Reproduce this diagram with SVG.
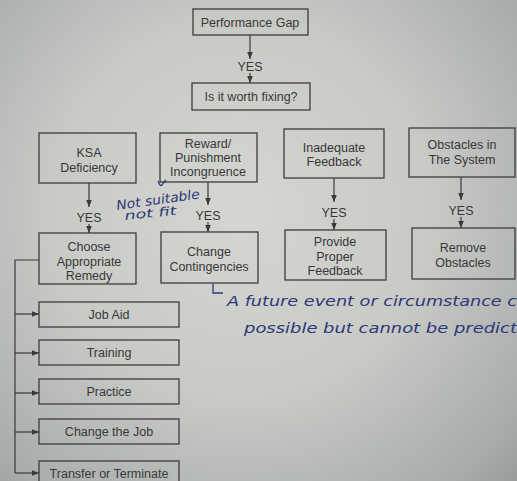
<svg xmlns="http://www.w3.org/2000/svg" width="517" height="481" viewBox="0 0 517 481">
<defs>
<radialGradient id="bg" cx="240" cy="210" r="420" gradientUnits="userSpaceOnUse">
<stop offset="0" stop-color="#d5d6d2"/>
<stop offset="0.45" stop-color="#c8cac6"/>
<stop offset="0.8" stop-color="#a9adab"/>
<stop offset="1" stop-color="#8e9391"/>
</radialGradient>
<marker id="ah" viewBox="0 0 10 10" refX="10" refY="5" markerWidth="7" markerHeight="7" markerUnits="userSpaceOnUse" orient="auto">
<path d="M0,1 L10,5 L0,9 z" fill="#3a3a3a"/>
</marker>
<style>
.box{fill:none;stroke:#3c3c3c;stroke-width:1.3}
.t{font-family:"Liberation Sans",Arial,sans-serif;font-size:12.5px;fill:#383838;text-anchor:middle}
.c{fill:none;stroke:#3a3a3a;stroke-width:1.2}
.hw{font-family:"DejaVu Sans",sans-serif;font-style:italic;fill:#2e3878}
.hl{fill:none;stroke:#2e3878;stroke-width:1.3}
</style>
</defs>
<rect width="517" height="481" fill="url(#bg)"/>

<g id="connectors">
<line class="c" x1="250" y1="35" x2="250" y2="59" marker-end="url(#ah)"/>
<line class="c" x1="250" y1="73" x2="250" y2="83" marker-end="url(#ah)"/>
<line class="c" x1="89" y1="183" x2="89" y2="207" marker-end="url(#ah)"/>
<line class="c" x1="89" y1="224" x2="89" y2="233" marker-end="url(#ah)"/>
<line class="c" x1="208" y1="182" x2="208" y2="205" marker-end="url(#ah)"/>
<line class="c" x1="208" y1="222" x2="208" y2="232" marker-end="url(#ah)"/>
<line class="c" x1="334" y1="178" x2="334" y2="202" marker-end="url(#ah)"/>
<line class="c" x1="334" y1="219" x2="334" y2="230" marker-end="url(#ah)"/>
<line class="c" x1="461" y1="177" x2="461" y2="200" marker-end="url(#ah)"/>
<line class="c" x1="461" y1="217" x2="461" y2="228" marker-end="url(#ah)"/>
<polyline class="c" points="39,260 15,260 15,473"/>
<line class="c" x1="15" y1="314" x2="39" y2="314" marker-end="url(#ah)"/>
<line class="c" x1="15" y1="353" x2="39" y2="353" marker-end="url(#ah)"/>
<line class="c" x1="15" y1="393" x2="39" y2="393" marker-end="url(#ah)"/>
<line class="c" x1="15" y1="432" x2="39" y2="432" marker-end="url(#ah)"/>
<line class="c" x1="15" y1="473" x2="39" y2="473" marker-end="url(#ah)"/>
<text class="t" x="250" y="71">YES</text>
<text class="t" x="89" y="222">YES</text>
<text class="t" x="208" y="220">YES</text>
<text class="t" x="334" y="217">YES</text>
<text class="t" x="461" y="215">YES</text>
</g>

<g id="performance-gap">
<rect class="box" x="193" y="9" width="115" height="26"/>
<text class="t" x="250" y="26.5">Performance Gap</text>
</g>
<g id="worth-fixing">
<rect class="box" x="192" y="83" width="118" height="27"/>
<text class="t" x="251" y="101">Is it worth fixing?</text>
</g>
<g id="ksa-deficiency">
<rect class="box" x="39" y="133" width="97" height="50"/>
<text class="t" x="89" y="157">KSA</text>
<text class="t" x="89" y="172">Deficiency</text>
</g>
<g id="reward-punishment">
<rect class="box" x="160" y="133" width="97" height="49"/>
<text class="t" x="208" y="148">Reward/</text>
<text class="t" x="208" y="162">Punishment</text>
<text class="t" x="208" y="176">Incongruence</text>
</g>
<g id="inadequate-feedback">
<rect class="box" x="284" y="129" width="100" height="49"/>
<text class="t" x="334" y="152">Inadequate</text>
<text class="t" x="334" y="166">Feedback</text>
</g>
<g id="obstacles-system">
<rect class="box" x="409" y="128" width="106" height="49"/>
<text class="t" x="462" y="149">Obstacles in</text>
<text class="t" x="462" y="164">The System</text>
</g>
<g id="choose-remedy">
<rect class="box" x="39" y="233" width="97" height="51"/>
<text class="t" x="89" y="251">Choose</text>
<text class="t" x="89" y="265.5">Appropriate</text>
<text class="t" x="89" y="280">Remedy</text>
</g>
<g id="change-contingencies">
<rect class="box" x="161" y="232" width="97" height="51"/>
<text class="t" x="209" y="256">Change</text>
<text class="t" x="209" y="270.5">Contingencies</text>
</g>
<g id="provide-feedback">
<rect class="box" x="285" y="230" width="101" height="50"/>
<text class="t" x="335" y="246">Provide</text>
<text class="t" x="335" y="260.5">Proper</text>
<text class="t" x="335" y="275">Feedback</text>
</g>
<g id="remove-obstacles">
<rect class="box" x="412" y="228" width="103" height="51"/>
<text class="t" x="463" y="252">Remove</text>
<text class="t" x="463" y="266.5">Obstacles</text>
</g>
<g id="job-aid">
<rect class="box" x="39" y="302" width="140" height="25"/>
<text class="t" x="109" y="319">Job Aid</text>
</g>
<g id="training">
<rect class="box" x="39" y="340" width="140" height="25"/>
<text class="t" x="109" y="357">Training</text>
</g>
<g id="practice">
<rect class="box" x="39" y="379" width="140" height="25"/>
<text class="t" x="109" y="396">Practice</text>
</g>
<g id="change-job">
<rect class="box" x="39" y="419" width="140" height="25"/>
<text class="t" x="109" y="436">Change the Job</text>
</g>
<g id="transfer-terminate">
<rect class="box" x="39" y="461" width="140" height="25"/>
<text class="t" x="109" y="478">Transfer or Terminate</text>
</g>

<g id="annotations">
<path class="hl" d="M158,181 q2,6 4,4 q2,-3 4,-5"/>
<text class="hw" font-size="13" transform="translate(117,210) rotate(-8)" textLength="84" lengthAdjust="spacingAndGlyphs">Not suitable</text>
<text class="hw" font-size="12" transform="translate(125,220) rotate(-6)" textLength="52" lengthAdjust="spacingAndGlyphs">not fit</text>
<path class="hl" d="M213,284 L213,293 L223,293"/>
<text class="hw" font-size="14" x="227" y="306" textLength="290" lengthAdjust="spacingAndGlyphs">A future event or circumstance c</text>
<text class="hw" font-size="14" x="244" y="333" textLength="273" lengthAdjust="spacingAndGlyphs">possible but cannot be predict</text>
</g>
</svg>
